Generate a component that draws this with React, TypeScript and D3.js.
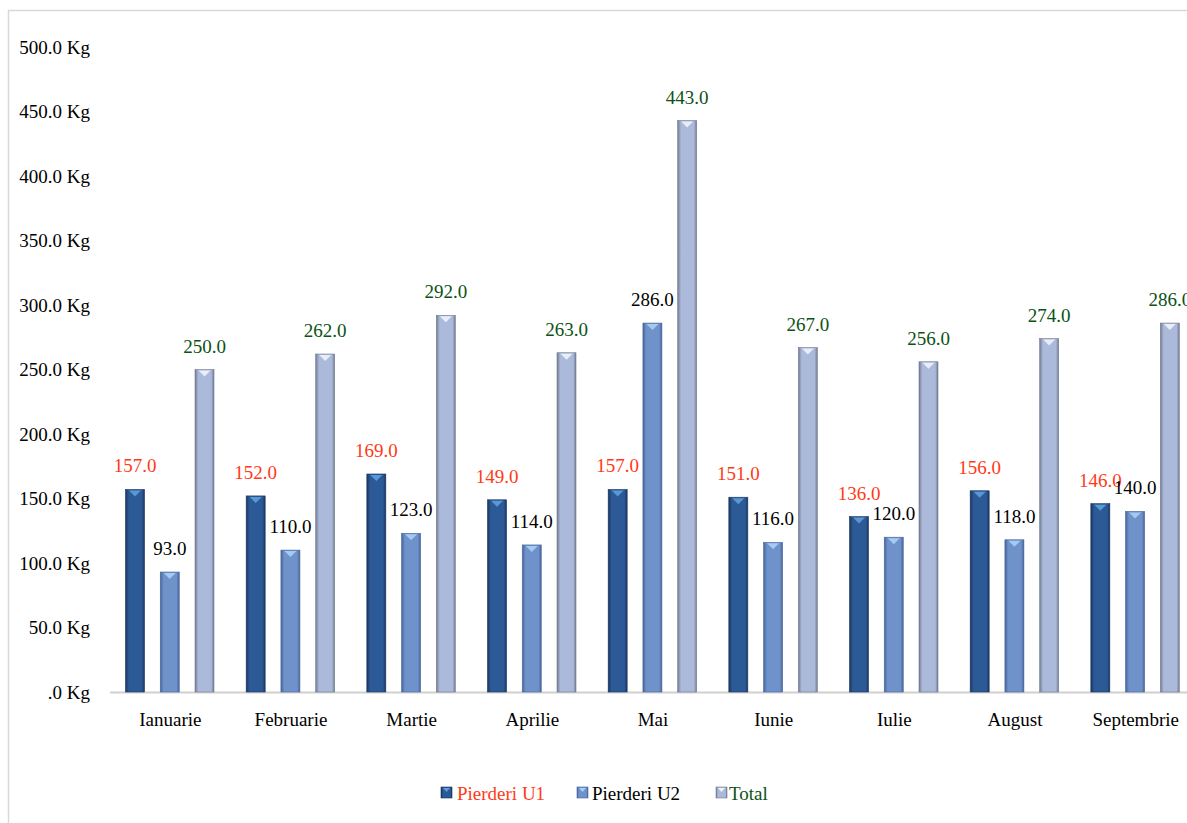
import React from "react";
import * as d3 from "d3";

const months = ["Ianuarie", "Februarie", "Martie", "Aprilie", "Mai", "Iunie", "Iulie", "August", "Septembrie"];
const seriesNames = ["Pierderi U1", "Pierderi U2", "Total"];
const pierderiU1 = [157, 152, 169, 149, 157, 151, 136, 156, 146];
const pierderiU2 = [93, 110, 123, 114, 286, 116, 120, 118, 140];
const total = [250, 262, 292, 263, 443, 267, 256, 274, 286];
const yTicks = [0, 50, 100, 150, 200, 250, 300, 350, 400, 450, 500];

const seriesValues = [pierderiU1, pierderiU2, total];
// body / edge / top-cap colours and label colours
const barStyle = [
  { light: "#2c5a96", dark: "#1a3560", cap: "#5f9ddc", label: "#ff3a17" },
  { light: "#7092cb", dark: "#46649a", cap: "#a9d0f4", label: "#000000" },
  { light: "#abbadb", dark: "#737b90", cap: "#eef3fb", label: "#0b5216" },
];

const W = 1187;
const H = 823;
const font = "'Liberation Serif', 'Times New Roman', serif";

const App = () => {
  const x = d3.scaleBand().domain(months).range([110, 1196]).padding(0);
  const inner = d3.scalePoint().domain(seriesNames).range([25, 94.5]);
  const y = d3.scaleLinear().domain([0, 500]).range([692, 47]);
  const barW = 19;
  const fmt = (v: number) => (v === 0 ? ".0" : d3.format(".1f")(v));

  return (
    <svg width={W} height={H} style={{ position: "absolute", left: 0, top: 0 }} fontFamily={font}>
      <defs>
        {barStyle.map((s, i) => (
          <linearGradient key={i} id={`g${i}`} x1="0" x2="1" y1="0" y2="0">
            <stop offset="0%" stopColor={s.dark} />
            <stop offset="18%" stopColor={s.light} />
            <stop offset="55%" stopColor={s.light} />
            <stop offset="85%" stopColor={s.light} />
            <stop offset="100%" stopColor={s.dark} />
          </linearGradient>
        ))}
      </defs>
      <rect x={8.5} y={10.5} width={1300} height={1000} fill="#fff" stroke="#d9d9d9" strokeWidth={1.5} />

      {yTicks.map((t) => (
        <text key={t} x={90} y={y(t)} dy="0.35em" textAnchor="end" fontSize={19} fill="#000">
          {fmt(t)} Kg
        </text>
      ))}

      <line x1={110} x2={W} y1={y(0) + 0.5} y2={y(0) + 0.5} stroke="#d0d0d0" strokeWidth={2} />

      {months.map((m, mi) => (
        <g key={m} transform={`translate(${x(m)},0)`}>
          {seriesNames.map((s, si) => {
            const v = seriesValues[si][mi];
            const cx = inner(s) as number;
            const top = y(v);
            return (
              <g key={s}>
                <rect x={cx - barW / 2} y={top} width={barW} height={y(0) - top} fill={`url(#g${si})`} stroke={barStyle[si].dark} strokeWidth={0.6} />
                <polygon points={`${cx - 6},${top + 1} ${cx + 6},${top + 1} ${cx},${top + 7}`} fill={barStyle[si].cap} opacity={0.9} />
                <text x={cx} y={top - 17} textAnchor="middle" fontSize={19} fill={barStyle[si].label}>
                  {d3.format(".1f")(v)}
                </text>
              </g>
            );
          })}
          <text x={x.bandwidth() / 2} y={719} dy="0.35em" textAnchor="middle" fontSize={19} fill="#000">
            {m}
          </text>
        </g>
      ))}

      {[
        { x: 441, tx: 457 },
        { x: 577, tx: 592 },
        { x: 716, tx: 729 },
      ].map((p, i) => (
        <g key={i}>
          <rect x={p.x} y={787} width={11} height={11} fill={`url(#g${i})`} stroke={barStyle[i].dark} strokeWidth={0.6} />
          <polygon points={`${p.x + 2},${788} ${p.x + 9},${788} ${p.x + 5.5},${792}`} fill={barStyle[i].cap} />
          <text x={p.tx} y={793} dy="0.35em" fontSize={19} fill={barStyle[i].label}>
            {seriesNames[i]}
          </text>
        </g>
      ))}
    </svg>
  );
};

export default App;
